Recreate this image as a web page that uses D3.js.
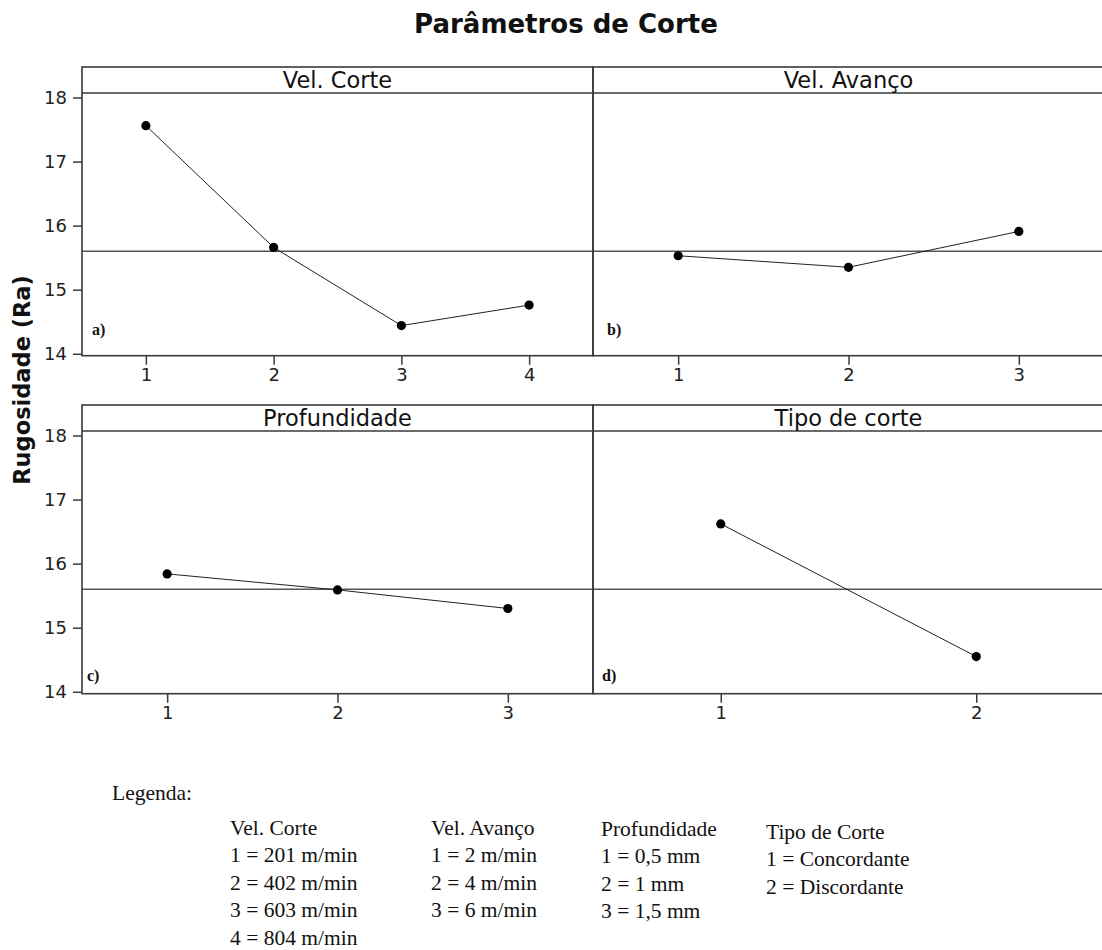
<!DOCTYPE html>
<html>
<head>
<meta charset="utf-8">
<script src="https://cdn.jsdelivr.net/npm/d3@7"></script>
<style>
  body { margin: 0; background: #fff; }
  svg { display: block; }
</style>
</head>
<body>
<script>
// ---- Data: main-effects means of surface roughness (Ra) per factor level ----
const factorNames = ["Vel. Corte", "Vel. Avanço", "Profundidade", "Tipo de corte"];
const panelTags = ["a)", "b)", "c)", "d)"];

const levelsVelCorte = [1, 2, 3, 4];
const meansVelCorte = [17.56, 15.66, 14.44, 14.76];

const levelsVelAvanco = [1, 2, 3];
const meansVelAvanco = [15.53, 15.35, 15.91];

const levelsProfundidade = [1, 2, 3];
const meansProfundidade = [15.84, 15.59, 15.30];

const levelsTipoCorte = [1, 2];
const meansTipoCorte = [16.62, 14.55];

const grandMean = [15.6];
const yTickValues = [14, 15, 16, 17, 18];

const chartTitle = "Parâmetros de Corte";
const yAxisTitle = "Rugosidade (Ra)";

// ---- Legend text ----
const legendHeading = "Legenda:";
const legendVelCorte = ["Vel. Corte", "1 = 201 m/min", "2 = 402 m/min", "3 = 603 m/min", "4 = 804 m/min"];
const legendVelAvanco = ["Vel. Avanço", "1 = 2 m/min", "2 = 4 m/min", "3 = 6 m/min"];
const legendProfundidade = ["Profundidade", "1 = 0,5 mm", "2 = 1 mm", "3 = 1,5 mm"];
const legendTipoCorte = ["Tipo de Corte", "1 = Concordante", "2 = Discordante"];

// ---- Layout ----
const W = 1102, H = 950;
const gridLeft = 82, gridTop = 67;
const colW = 511, rowStep = 338;
const stripH = 26, plotH = 262.7;
const yDomain = [13.97, 18.07];
const sansFont = "'DejaVu Sans', Verdana, sans-serif";
const serifFont = "'Liberation Serif', 'Times New Roman', serif";
const frameColor = "#3a3a3a";
const tagOffsets = [[10, 21], [14, 21], [5, 13], [9, 13]];

const panels = [
  { levels: levelsVelCorte, means: meansVelCorte },
  { levels: levelsVelAvanco, means: meansVelAvanco },
  { levels: levelsProfundidade, means: meansProfundidade },
  { levels: levelsTipoCorte, means: meansTipoCorte }
].map((p, i) => ({ ...p, name: factorNames[i], tag: panelTags[i], col: i % 2, row: Math.floor(i / 2) }));

const svg = d3.select("body").append("svg")
  .attr("width", W).attr("height", H)
  .attr("viewBox", `0 0 ${W} ${H}`);

svg.append("rect").attr("width", W).attr("height", H).attr("fill", "#fff");

// Title
svg.append("text")
  .attr("x", 566).attr("y", 33)
  .attr("text-anchor", "middle")
  .attr("font-family", sansFont)
  .attr("font-weight", "bold")
  .attr("font-size", 26)
  .attr("fill", "#111")
  .text(chartTitle);

// Shared y-axis title
svg.append("text")
  .attr("transform", `translate(30,380) rotate(-90)`)
  .attr("text-anchor", "middle")
  .attr("font-family", sansFont)
  .attr("font-weight", "bold")
  .attr("font-size", 22.5)
  .attr("fill", "#111")
  .text(yAxisTitle);

panels.forEach((p, i) => {
  const x0 = gridLeft + p.col * colW;
  const y0 = gridTop + p.row * rowStep;
  const g = svg.append("g").attr("transform", `translate(${x0},${y0})`);

  const x = d3.scaleLinear().domain([0.5, p.levels.length + 0.5]).range([0, colW]);
  const y = d3.scaleLinear().domain(yDomain).range([stripH + plotH, stripH]);

  // Reference line at the overall mean
  g.append("line")
    .attr("x1", 0).attr("x2", colW)
    .attr("y1", y(grandMean[0])).attr("y2", y(grandMean[0]))
    .attr("stroke", "#555").attr("stroke-width", 1.5);

  // Connecting line through the level means
  const pts = p.levels.map((lv, k) => [lv, p.means[k]]);
  g.append("path")
    .datum(pts)
    .attr("fill", "none")
    .attr("stroke", "#222")
    .attr("stroke-width", 1)
    .attr("d", d3.line().x(d => x(d[0])).y(d => y(d[1])));

  g.selectAll("circle.pt").data(pts).join("circle")
    .attr("class", "pt")
    .attr("cx", d => x(d[0])).attr("cy", d => y(d[1]))
    .attr("r", 4.6)
    .attr("fill", "#000");

  // Panel frame and strip
  g.append("rect")
    .attr("x", 0).attr("y", 0)
    .attr("width", colW).attr("height", stripH + plotH)
    .attr("fill", "none").attr("stroke", frameColor).attr("stroke-width", 1.6);
  g.append("line")
    .attr("x1", 0).attr("x2", colW)
    .attr("y1", stripH).attr("y2", stripH)
    .attr("stroke", frameColor).attr("stroke-width", 1.6);
  g.append("text")
    .attr("x", colW / 2).attr("y", 20.5)
    .attr("text-anchor", "middle")
    .attr("font-family", sansFont)
    .attr("font-size", 22.5)
    .attr("fill", "#111")
    .text(p.name);

  // Panel tag
  g.append("text")
    .attr("x", tagOffsets[i][0]).attr("y", stripH + plotH - tagOffsets[i][1])
    .attr("font-family", serifFont)
    .attr("font-weight", "bold")
    .attr("font-size", 16)
    .attr("fill", "#111")
    .text(p.tag);

  // X axis
  const xa = g.append("g")
    .attr("transform", `translate(0,${stripH + plotH})`)
    .call(d3.axisBottom(x).tickValues(p.levels).tickFormat(d3.format("d")).tickSize(9).tickSizeOuter(0).tickPadding(4));
  xa.select(".domain").remove();
  xa.selectAll("line").attr("stroke", frameColor).attr("stroke-width", 1.5);
  xa.selectAll("text").attr("font-family", sansFont).attr("font-size", 18).attr("fill", "#222");

  // Y axis on the left column only
  if (p.col === 0) {
    const ya = g.append("g")
      .call(d3.axisLeft(y).tickValues(yTickValues).tickFormat(d3.format("d")).tickSize(9).tickSizeOuter(0).tickPadding(6));
    ya.select(".domain").remove();
    ya.selectAll("line").attr("stroke", frameColor).attr("stroke-width", 1.5);
    ya.selectAll("text").attr("font-family", sansFont).attr("font-size", 18).attr("fill", "#222");
  }
});

// ---- Legend ----
const legendG = svg.append("g")
  .attr("font-family", serifFont)
  .attr("font-size", 21.5)
  .attr("fill", "#111");

legendG.append("text").attr("x", 112).attr("y", 800).text(legendHeading);

const legendCols = [
  { lines: legendVelCorte, x: 230, y: 835 },
  { lines: legendVelAvanco, x: 431, y: 835 },
  { lines: legendProfundidade, x: 601, y: 836 },
  { lines: legendTipoCorte, x: 766, y: 839 }
];
const lineStep = 27.4;
legendCols.forEach(c => {
  legendG.selectAll(null).data(c.lines).join("text")
    .attr("x", c.x)
    .attr("y", (d, k) => c.y + k * lineStep)
    .text(d => d);
});
</script>
</body>
</html>
